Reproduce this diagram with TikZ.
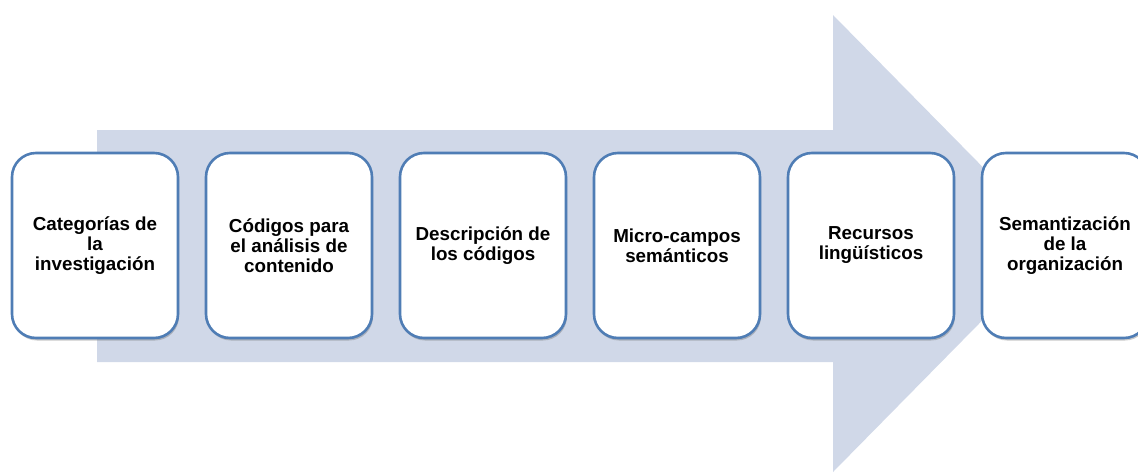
\documentclass[tikz,border=0pt]{standalone}
\usepackage{fontspec}
\setmainfont{Liberation Sans}
\usetikzlibrary{shadows}
\definecolor{arrowfill}{HTML}{D0D8E8}
\definecolor{boxline}{HTML}{4F7DB5}
\begin{document}
\begin{tikzpicture}[x=1pt,y=-1pt,
  stepbox/.style={draw=boxline, line width=2.6pt, fill=white, rounded corners=24pt,
    minimum width=166pt, minimum height=185pt, inner sep=0pt,
    align=center, font=\fontsize{18.8}{20}\selectfont\bfseries,
    drop shadow={opacity=0.35, shadow xshift=1pt, shadow yshift=-2.5pt, fill=black!60}}]
\useasboundingbox (0,0) rectangle (1138,472);
\fill[arrowfill] (97,130) -- (833,130) -- (833,15) -- (1058,243.5) -- (833,472) -- (833,362) -- (97,362) -- cycle;
\node[stepbox] (b1) at (95,245.5) {Categorías de\\la\\investigación};
\node[stepbox] (b2) at (289,245.5) {Códigos para\\el análisis de\\contenido};
\node[stepbox] (b3) at (483,245.5) {Descripción de\\los códigos};
\node[stepbox] (b4) at (677,245.5) {Micro-campos\\semánticos};
\node[stepbox] (b5) at (871,245.5) {Recursos\\lingüísticos};
\node[stepbox] (b6) at (1065,245.5) {Semantización\\de la\\organización};
\end{tikzpicture}
\end{document}
